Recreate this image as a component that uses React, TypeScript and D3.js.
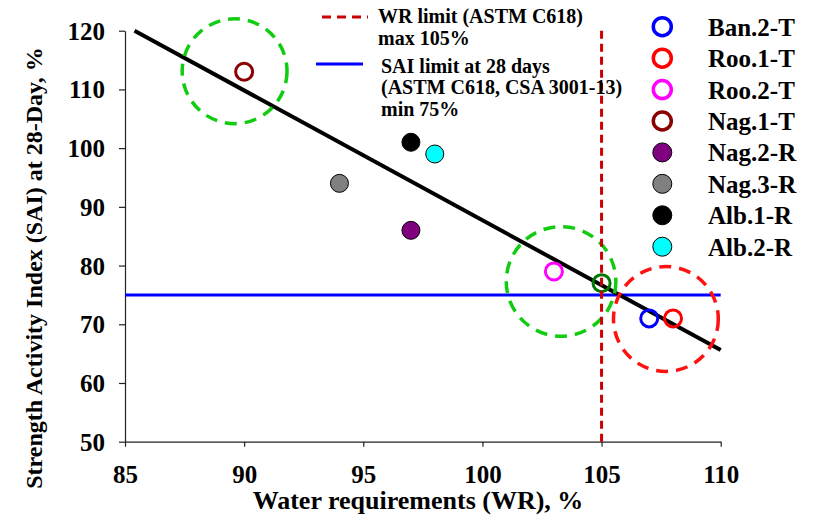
import React, { useRef, useEffect } from 'react'
import * as d3 from 'd3'

// data
const seriesNames = ['Ban.2-T', 'Roo.1-T', 'Roo.2-T', 'Nag.1-T', 'Nag.2-R', 'Nag.3-R', 'Alb.1-R', 'Alb.2-R']
const wrValues = [107, 108, 103, 90, 97, 94, 97, 98]
const saiValues = [71, 71, 79, 113, 86, 94, 101, 99]
const seriesColors = ['#0000ff', '#ff0000', '#ff00ff', '#8b0000', '#800080', '#808080', '#000000', '#00ffff']
const hollowSeries = ['Ban.2-T', 'Roo.1-T', 'Roo.2-T', 'Nag.1-T']

// unlabelled point sitting on the WR limit
const extraWR = [105]
const extraSAI = [77]

const trendWR = [85.4, 110]
const trendSAI = [120, 65.6]

const wrLimit = 105
const saiLimit = 75

const highlightWR = [89.6, 103.3, 107.7]
const highlightSAI = [113.1, 77.3, 70.9]
const highlightRadiusWR = [2.2, 2.3, 2.2]
const highlightColors = ['#11cc11', '#11cc11', '#ff1111']

const xTicks = [85, 90, 95, 100, 105, 110]
const yTicks = [50, 60, 70, 80, 90, 100, 110, 120]

const FONT = 'Liberation Serif, Times New Roman, serif'

export default function App() {
  const svgRef = useRef<SVGSVGElement>(null)

  useEffect(() => {
    if (!svgRef.current) return
    const svg = d3.select(svgRef.current)
    svg.selectAll('*').remove()

    const x = d3.scaleLinear().domain([85, 110]).range([125, 720.7])
    const y = d3.scaleLinear().domain([50, 120]).range([441.7, 30.7])

    svg.append('rect').attr('width', 819).attr('height', 519).attr('fill', '#fff')

    // axes
    const xAxis = svg
      .append('g')
      .attr('transform', `translate(0,${y(50)})`)
      .call(d3.axisBottom(x).tickValues(xTicks).tickSize(5).tickPadding(14).tickSizeOuter(0))
    const yAxis = svg
      .append('g')
      .attr('transform', `translate(${x(85)},0)`)
      .call(d3.axisLeft(y).tickValues(yTicks).tickSize(6).tickPadding(14).tickSizeOuter(0))
    ;[xAxis, yAxis].forEach((a) => {
      a.selectAll('.domain, .tick line').attr('stroke', '#222').attr('stroke-width', 1.2)
      a.selectAll('text')
        .style('font-family', FONT)
        .style('font-weight', 'bold')
        .style('font-size', '25px')
        .attr('fill', '#000')
    })
    xAxis.selectAll('text').attr('dy', '0.9em')
    yAxis.selectAll('text').attr('dy', '0.34em')

    const label = (sel: d3.Selection<SVGTextElement, unknown, null, undefined>, size: number) =>
      sel.style('font-family', FONT).style('font-weight', 'bold').style('font-size', `${size}px`)

    // axis titles
    label(
      svg.append('text').attr('x', 418).attr('y', 509).attr('text-anchor', 'middle'),
      26,
    ).text('Water requirements (WR), %')
    label(
      svg.append('text').attr('transform', 'translate(42,268) rotate(-90)').attr('text-anchor', 'middle'),
      24,
    ).text('Strength Activity Index (SAI) at 28-Day, %')

    // SAI limit
    svg
      .append('line')
      .attr('x1', x(85))
      .attr('x2', x(110))
      .attr('y1', y(saiLimit))
      .attr('y2', y(saiLimit))
      .attr('stroke', '#0000ff')
      .attr('stroke-width', 3)

    // trend line
    const line = d3
      .line<number>()
      .x((d) => x(d))
      .y((_, i) => y(trendSAI[i]))
    svg
      .append('path')
      .attr('d', line(trendWR))
      .attr('fill', 'none')
      .attr('stroke', '#000')
      .attr('stroke-width', 4)

    // highlight circles
    highlightWR.forEach((h, i) => {
      svg
        .append('circle')
        .attr('cx', x(h))
        .attr('cy', y(highlightSAI[i]))
        .attr('r', x(85 + highlightRadiusWR[i]) - x(85))
        .attr('fill', 'none')
        .attr('stroke', highlightColors[i])
        .attr('stroke-width', 3.5)
        .attr('stroke-dasharray', '12,8')
    })

    // points
    const drawPoint = (cx: number, cy: number, color: string, hollow: boolean) => {
      svg
        .append('circle')
        .attr('cx', cx)
        .attr('cy', cy)
        .attr('r', hollow ? 8.5 : 9)
        .attr('fill', hollow ? 'none' : color)
        .attr('stroke', hollow ? color : '#000')
        .attr('stroke-width', hollow ? 3 : 1)
    }
    extraWR.forEach((w, i) => drawPoint(x(w), y(extraSAI[i]), '#007700', true))
    seriesNames.forEach((n, i) =>
      drawPoint(x(wrValues[i]), y(saiValues[i]), seriesColors[i], hollowSeries.includes(n)),
    )

    // WR limit
    svg
      .append('line')
      .attr('x1', x(wrLimit))
      .attr('x2', x(wrLimit))
      .attr('y1', y(120))
      .attr('y2', y(50))
      .attr('stroke', '#cc0000')
      .attr('stroke-width', 3)
      .attr('stroke-dasharray', '8,5')

    // limits legend
    const lg = svg.append('g')
    lg.append('line')
      .attr('x1', 322).attr('x2', 368).attr('y1', 17).attr('y2', 17)
      .attr('stroke', '#cc0000').attr('stroke-width', 3).attr('stroke-dasharray', '9,6')
    lg.append('line')
      .attr('x1', 316).attr('x2', 363).attr('y1', 64).attr('y2', 64)
      .attr('stroke', '#0000ff').attr('stroke-width', 3)
    const legendLines: [number, number, string][] = [
      [378, 23, 'WR limit (ASTM C618)'],
      [378, 45, 'max 105%'],
      [381, 73, 'SAI limit at 28 days'],
      [381, 94, '(ASTM C618, CSA 3001-13)'],
      [381, 116, 'min 75%'],
    ]
    legendLines.forEach(([lx, ly, t]) => label(lg.append('text').attr('x', lx).attr('y', ly), 20).text(t))

    // series legend
    const legendY = d3.scaleLinear().domain([0, 7]).range([26.7, 246.7])
    seriesNames.forEach((n, i) => {
      const hollow = hollowSeries.includes(n)
      svg
        .append('circle')
        .attr('cx', 662.3)
        .attr('cy', legendY(i))
        .attr('r', hollow ? 9 : 9.5)
        .attr('fill', hollow ? 'none' : seriesColors[i])
        .attr('stroke', hollow ? seriesColors[i] : '#000')
        .attr('stroke-width', hollow ? 3.5 : 1)
      label(svg.append('text').attr('x', 708).attr('y', legendY(i) + 9), 25).text(n)
    })
  }, [])

  return (
    <div style={{ position: 'fixed', left: 0, top: 0 }}>
      <svg ref={svgRef} width={819} height={519} style={{ display: 'block' }} />
    </div>
  )
}
